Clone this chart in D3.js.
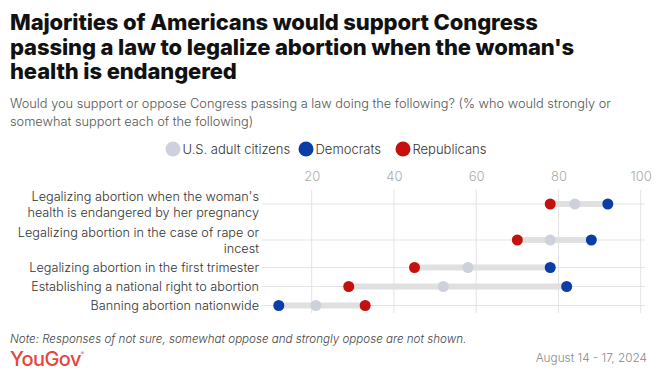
<!DOCTYPE html>
<html><head><meta charset="utf-8">
<script src="https://cdn.jsdelivr.net/npm/d3@7"></script>
<style>
body{margin:0;background:#fff;}
text{font-family:Inter,"Noto Sans",sans-serif;}
</style></head><body>
<svg id="c" width="663" height="378"></svg>
<script>
const categories = [
  "Legalizing abortion when the woman's\nhealth is endangered by her pregnancy",
  "Legalizing abortion in the case of rape or\nincest",
  "Legalizing abortion in the first trimester",
  "Establishing a national right to abortion",
  "Banning abortion nationwide"
];
const seriesNames = ["U.S. adult citizens", "Democrats", "Republicans"];
const citizens    = [84, 78, 58, 52, 21];
const democrats   = [92, 88, 78, 82, 12];
const republicans = [78, 70, 45, 29, 33];
const tickValues = [20, 40, 60, 80, 100];

const colors = ["#ccd1dc", "#0a3ea6", "#c4100e"];
const series = [citizens, democrats, republicans];

const svg = d3.select("#c");

// Title
const titleLines = ["Majorities of Americans would support Congress",
  "passing a law to legalize abortion when the woman's",
  "health is endangered"];
svg.append("g").selectAll("text").data(titleLines).join("text")
  .attr("x", 10).attr("y", (d,i)=>30 + i*24.5)
  .attr("font-size", 22).attr("font-weight", 800).attr("fill", "#111")
  .attr("letter-spacing", -0.12)
  .text(d=>d);

const subLines = ["Would you support or oppose Congress passing a law doing the following? (% who would strongly or",
  "somewhat support each of the following)"];
svg.append("g").selectAll("text").data(subLines).join("text")
  .attr("x", 10).attr("y", (d,i)=>108 + i*18)
  .attr("font-size", 12.8).attr("font-weight", 300).attr("fill", "#555")
  .text(d=>d);

// Legend
const legendX = [173, 306, 403];
const lg = svg.append("g");
seriesNames.forEach((n,i)=>{
  lg.append("circle").attr("cx", legendX[i]).attr("cy", 149).attr("r", 7.5).attr("fill", colors[i]);
  lg.append("text").attr("x", legendX[i]+9.5).attr("y", 153.5).attr("font-size", 13)
    .attr("font-weight", 300).attr("fill", "#333").text(n);
});

// Scales
const x = d3.scaleLinear().domain([0, 100]).range([229.45, 640.7]);
const lines = categories.map(c=>c.split("\n"));
const heights = lines.map(l=>17*l.length + 2);
const tops = [];
let acc = 186;
heights.forEach(h=>{tops.push(acc); acc += h;});
const yc = i => tops[i] + heights[i]/2;

// vertical grid
svg.append("g").selectAll("line").data(tickValues).join("line")
  .attr("x1", d=>x(d)).attr("x2", d=>x(d)).attr("y1", 190).attr("y2", 313)
  .attr("stroke", "#e3e3e3").attr("stroke-width", 1);
// tick labels
const xAxis = d3.axisTop(x).tickValues(tickValues).tickSize(0).tickPadding(0);
const ax = svg.append("g").attr("transform", "translate(0,181)").call(xAxis);
ax.select(".domain").remove();
ax.selectAll("text").attr("font-size", 13).attr("font-weight", 300).attr("fill", "#aaa")
  .attr("font-family", "Inter,'Noto Sans',sans-serif").attr("dy", 0);

// horizontal grid
svg.append("g").selectAll("line").data(categories).join("line")
  .attr("x1", 262).attr("x2", 645).attr("y1", (d,i)=>yc(i)).attr("y2", (d,i)=>yc(i))
  .attr("stroke", "#e3e3e3").attr("stroke-width", 1);

// labels
const lab = svg.append("g");
lines.forEach((ls,i)=>{
  const t = lab.append("text").attr("text-anchor", "end").attr("font-size", 12.7)
    .attr("font-weight", 300).attr("fill", "#333");
  ls.forEach((l,j)=>{
    t.append("tspan").attr("x", 259)
      .attr("y", yc(i) + 4.5 + (j - (ls.length-1)/2)*16).text(l);
  });
});

// range bars
svg.append("g").selectAll("line").data(categories).join("line")
  .attr("x1", (d,i)=>x(Math.min(citizens[i], democrats[i], republicans[i])))
  .attr("x2", (d,i)=>x(Math.max(citizens[i], democrats[i], republicans[i])))
  .attr("y1", (d,i)=>yc(i)).attr("y2", (d,i)=>yc(i))
  .attr("stroke", "#e0e0e0").attr("stroke-width", 6);

// dots
series.forEach((s,k)=>{
  svg.append("g").selectAll("circle").data(s).join("circle")
    .attr("cx", d=>x(d)).attr("cy", (d,i)=>yc(i)).attr("r", 5.5).attr("fill", colors[k]);
});

// footer
svg.append("text").attr("x", 10).attr("y", 343).attr("font-size", 11.6).attr("font-style", "italic")
  .attr("font-weight", 300).attr("fill", "#444")
  .text("Note: Responses of not sure, somewhat oppose and strongly oppose are not shown.");
const yg = svg.append("text").attr("x", 10).attr("y", 366).attr("font-size", 20).attr("font-weight", 500)
  .attr("fill", "#e5473b").attr("letter-spacing", -0.6).text("YouGov");
yg.append("tspan").attr("font-size", 5).attr("dy", -11).text("®");
svg.append("text").attr("x", 647).attr("y", 362).attr("text-anchor", "end").attr("font-size", 11.8)
  .attr("font-weight", 300).attr("fill", "#888").text("August 14 - 17, 2024");
</script>
</body></html>
